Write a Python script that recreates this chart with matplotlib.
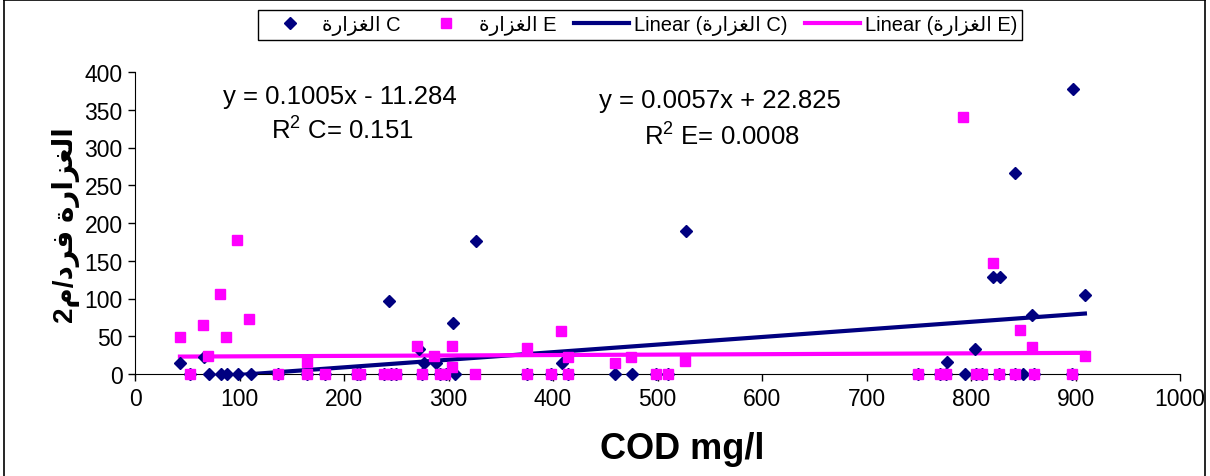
import matplotlib.pyplot as plt
import numpy as np

plt.rcParams['font.family'] = ['Liberation Sans', 'DejaVu Sans']
plt.rcParams['mathtext.fontset'] = 'custom'
plt.rcParams['mathtext.rm'] = 'Liberation Sans'
plt.rcParams['mathtext.it'] = 'Liberation Sans'

# Arabic words in presentation forms, visual order (matplotlib does no shaping)
ghazara = '\uFE93\uFEAD\uFE8D\uFEB0\uFED0\uFEDF\uFE8D'
fard_m2 = '2\uFEE1/\uFEA9\uFEAE\uFED3'

cod_c = [43, 53, 66, 71, 82, 88, 99, 111, 137, 165, 182, 212, 215, 238, 243, 245, 250,
         272, 275, 277, 288, 292, 298, 304, 306, 326, 375, 398, 409, 414, 459, 476, 499,
         510, 527, 749, 770, 776, 777, 794, 804, 805, 811, 821, 827, 828, 842, 842, 850,
         858, 860, 897, 898, 909]
ab_c = [15, 0, 23, 0, 0, 0, 0, 0, 0, 0, 0, 0, 0, 0, 97, 0, 0,
        33, 0, 15, 15, 0, 0, 68, 0, 176, 0, 0, 15, 0, 0, 0, 0,
        0, 190, 0, 0, 0, 16, 0, 33, 0, 0, 128, 0, 128, 266, 0, 0,
        78, 0, 0, 378, 105]

cod_e = [43, 53, 65, 70, 81, 87, 98, 109, 137, 165, 165, 182, 212, 215, 238, 245, 250,
         270, 275, 286, 292, 297, 303, 303, 325, 375, 375, 398, 408, 414, 414, 459, 475,
         499, 510, 526, 749, 770, 776, 792, 805, 811, 821, 827, 842, 847, 858, 860, 897, 909]
ab_e = [49, 0, 65, 24, 106, 49, 177, 73, 0, 16, 0, 0, 0, 0, 0, 0, 0,
        37, 0, 24, 0, 0, 37, 9, 0, 35, 0, 0, 57, 22, 0, 14, 22,
        0, 0, 17, 0, 0, 0, 341, 0, 0, 147, 0, 0, 58, 36, 0, 0, 24]

# trendline coefficients as printed on the chart
trend_c = (0.1005, -11.284)
trend_e = (0.0057, 22.825)

navy = '#000080'
pink = '#FF00FF'

W, H = 1210, 477
fig = plt.figure(figsize=(W / 100, H / 100), dpi=100)
ax = fig.add_axes([135 / W, 1 - 375 / H, 1045 / W, 302 / H])

xc = np.array([min(cod_c), max(cod_c)])
xe = np.array([min(cod_e), max(cod_e)])
ax.plot(xc, trend_c[0] * xc + trend_c[1], color=navy, lw=3, zorder=2,
        label='Linear (' + ghazara + ' C)')
ax.plot(xe, trend_e[0] * xe + trend_e[1], color=pink, lw=3, zorder=2,
        label='Linear (' + ghazara + ' E)')
ax.plot(cod_c, ab_c, 'D', color=navy, ms=6, mec=navy, ls='none', zorder=3,
        label=ghazara + ' C', clip_on=False)
ax.plot(cod_e, ab_e, 's', color=pink, ms=7.5, mec=pink, ls='none', zorder=4,
        label=ghazara + ' E', clip_on=False)

ax.set_xlim(0, 1000)
ax.set_ylim(0, 400)
ax.set_xticks(range(0, 1001, 100))
ax.set_yticks(range(0, 401, 50))
ax.spines['top'].set_visible(False)
ax.spines['right'].set_visible(False)
ax.tick_params(direction='out', length=5, width=1, labelsize=16.5, pad=4)

fig.text(682 / W, 1 - 450 / H, 'COD mg/l', fontsize=26, fontweight='bold',
         ha='center', va='center')
fig.text(66 / W, 1 - 225 / H, fard_m2 + ' ' + ghazara, fontsize=20, fontweight='bold',
         rotation=90, ha='center', va='center')

fig.text(340 / W, 1 - 97 / H, 'y = 0.1005x - 11.284', fontsize=18.5, ha='center', va='center')
fig.text(342 / W, 1 - 131 / H, 'R$^2$ C= 0.151', fontsize=18.5, ha='center', va='center')
fig.text(720 / W, 1 - 101 / H, 'y = 0.0057x + 22.825', fontsize=18.5, ha='center', va='center')
fig.text(722 / W, 1 - 137 / H, 'R$^2$ E= 0.0008', fontsize=18.5, ha='center', va='center')

h, l = ax.get_legend_handles_labels()
order = [2, 3, 0, 1]
leg = fig.legend([h[i] for i in order], [l[i] for i in order], loc='center',
                 bbox_to_anchor=(640 / W, 1 - 26 / H), ncol=4, fontsize=14.5,
                 frameon=True, fancybox=False, framealpha=1, edgecolor='black',
                 handlelength=2.7, handletextpad=0.25, columnspacing=0.9,
                 borderpad=0.25)
leg.get_frame().set_linewidth(1)

# outer chart border
fig.add_artist(plt.Line2D([4 / W, 4 / W], [0, 1 - 1 / H], color='black', lw=1.2))
fig.add_artist(plt.Line2D([1205 / W, 1205 / W], [0, 1 - 1 / H], color='black', lw=1.2))
fig.add_artist(plt.Line2D([4 / W, 1205 / W], [1 - 1 / H, 1 - 1 / H], color='black', lw=1.2))

fig.savefig('out.png', dpi=100)
